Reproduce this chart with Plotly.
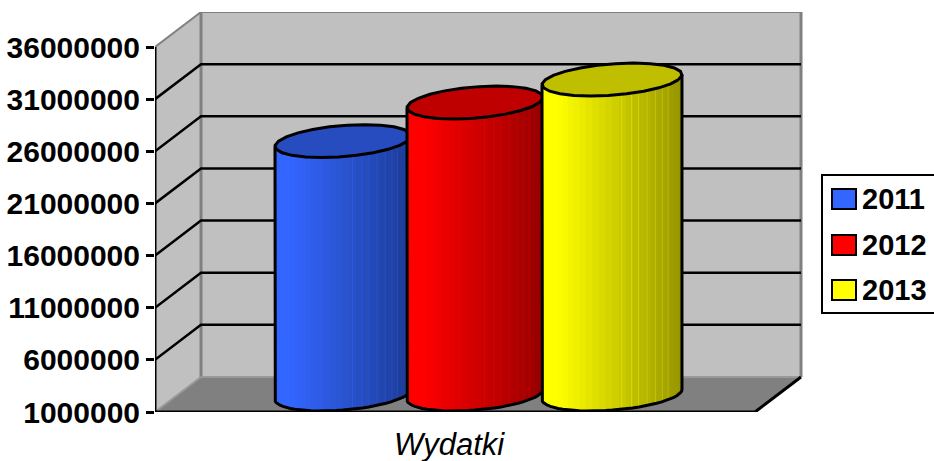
import numpy as np
import plotly.graph_objects as go

years = ["2011", "2012", "2013"]
wydatki = [25300000, 29000000, 31200000]
colors = [(51, 102, 255), (255, 0, 0), (255, 255, 0)]
tick_values = [1000000, 6000000, 11000000, 16000000, 21000000, 26000000, 31000000, 36000000]
tick_labels = ["1000000", "6000000", "11000000", "16000000", "21000000", "26000000", "31000000", "36000000"]
category = "Wydatki"

FONT = "Liberation Sans"
W, H = 934, 461
# plot area in pixels, the x axis runs on to the window edge to leave room for the legend
LEFT, TOP, BOTTOM = 155, 12, 412
PX_PER_X = 600
PX_PER_VALUE = 52.14 / 5000000
Y_MIN = tick_values[0]
Y_MAX = Y_MIN + (BOTTOM - TOP) / PX_PER_VALUE
X_MAX = (W - LEFT) / PX_PER_X
# depth of the box: x axis 0..1 is the front edge of the floor
DX = 46 / PX_PER_X
DY = 35 / PX_PER_VALUE
TICK_DROP = 8 / PX_PER_VALUE

# where the cylinders sit along the front edge, and how wide they are
bar_lefts = [0.2, 0.42, 0.645]
bar_widths = [0.2267, 0.2267, 0.2333]
# light seams between the facets on the shaded side
facet_fracs = [0.57, 0.64, 0.69, 0.75, 0.81, 0.86, 0.9]


def rgb(c, k=1.0):
    return "rgb(%d,%d,%d)" % (c[0] * k, c[1] * k, c[2] * k)


def ring(cx, value, half, t):
    # oblique projection of a circle lying at height value
    shear = DX * 0.47
    r = np.sqrt(max(half**2 - shear**2, 0))
    x = cx + r * np.cos(t) + shear * np.sin(t)
    y = value + DY * (0.5 + 0.47 * np.sin(t))
    return x, y


def shade(frac):
    if frac < 0.1:
        return 1.0
    return 1.0 - 0.42 * (frac - 0.1) / 0.9


fig = go.Figure()


def add_poly(x, y, color, name=None):
    fig.add_trace(go.Scatter(x=x, y=y, mode="lines", fill="toself", fillcolor=color,
                             line=dict(width=0, color=color), hoverinfo="skip",
                             name=name, showlegend=False, cliponaxis=False))


def add_line(x, y, color, width, name=None):
    fig.add_trace(go.Scatter(x=x, y=y, mode="lines", line=dict(color=color, width=width),
                             hoverinfo="skip", name=name, showlegend=False, cliponaxis=False))


# walls and floor
add_poly([0, DX, DX, 0], [Y_MIN, Y_MIN + DY, tick_values[-1] + DY, tick_values[-1]], "#c0c0c0")
add_poly([DX, 1 + DX, 1 + DX, DX], [Y_MIN + DY, Y_MIN + DY, tick_values[-1] + DY, tick_values[-1] + DY], "#c0c0c0")
add_poly([0, 1, 1 + DX, DX], [Y_MIN, Y_MIN, Y_MIN + DY, Y_MIN + DY], "#808080")

add_line([0, DX], [tick_values[-1], tick_values[-1] + DY], "#808080", 2)
add_line([DX, 1 + DX], [tick_values[-1] + DY] * 2, "#808080", 2)
add_line([DX, DX], [Y_MIN + DY, tick_values[-1] + DY], "#808080", 3)
add_line([1 + DX, 1 + DX], [Y_MIN + DY, tick_values[-1] + DY], "#808080", 3)
add_line([0, DX], [Y_MIN, Y_MIN + DY], "#999999", 2)
add_line([DX, 1 + DX], [Y_MIN + DY] * 2, "#999999", 2)

# gridlines
for v in tick_values[1:-1]:
    add_line([0, DX, 1 + DX], [v, v + DY, v + DY], "black", 2.5)

# floor edges, end ticks and value axis
add_line([0, 1, 1 + DX], [Y_MIN, Y_MIN, Y_MIN + DY], "black", 3)
add_line([0, 0], [Y_MIN - TICK_DROP, tick_values[-1]], "black", 3)
add_line([1, 1], [Y_MIN - TICK_DROP, Y_MIN], "black", 3)

# cylinders
for year, value, c, left, width in zip(years, wydatki, colors, bar_lefts, bar_widths):
    half = width / 2
    cx = left + half
    # front half of the ring, left to right
    t = np.linspace(np.pi + 0.32, 2 * np.pi + 0.32, 33)
    bx, by = ring(cx, Y_MIN, half, t)
    tx, ty = ring(cx, value, half, t)
    for i in range(len(t) - 1):
        j = min(i + 2, len(t) - 1)
        frac = (bx[i] - left) / width
        add_poly([bx[i], bx[j], tx[j], tx[i]], [by[i], by[j], ty[j], ty[i]], rgb(c, shade(frac)), year)
    for frac in facet_fracs:
        x = left + frac * width
        add_line([x, x], [np.interp(x, bx, by), np.interp(x, tx, ty)], rgb(c, min(shade(frac) + 0.1, 1)), 1, year)
    # top face
    tt = np.linspace(0, 2 * np.pi, 25)
    ex, ey = ring(cx, value, half, tt)
    add_poly(ex, ey, rgb(c, 0.75), year)
    add_line(ex, ey, "black", 3, year)
    # outline of the body
    ox = [tx[0]] + list(bx) + [tx[-1]]
    oy = [ty[0]] + list(by) + [ty[-1]]
    add_line(ox, oy, "black", 3, year)


def axis_x(px):
    return (px - LEFT) / PX_PER_X


def paper_y(py):
    return (BOTTOM - py) / (BOTTOM - TOP)


# legend box
shapes = [dict(type="rect", xref="x", yref="paper", x0=axis_x(822), x1=axis_x(940),
               y0=paper_y(313), y1=paper_y(175), line=dict(color="black", width=2), fillcolor="white")]
annotations = []
legend_rows = [199, 245, 290]
for year, c, py in zip(years, colors, legend_rows):
    shapes.append(dict(type="rect", xref="x", yref="paper", x0=axis_x(832), x1=axis_x(856),
                       y0=paper_y(py + 10), y1=paper_y(py - 10), line=dict(color="black", width=2),
                       fillcolor=rgb(c)))
    annotations.append(dict(text="<b>%s</b>" % year, xref="x", yref="paper", x=axis_x(860), y=paper_y(py),
                            xanchor="left", yanchor="middle", showarrow=False,
                            font=dict(family=FONT, size=29, color="black")))

# category label drawn in the page, it must not reserve any room under the axis
annotations.append(dict(text="<i>%s</i>" % category, xref="x", yref="y", x=0.49, y=Y_MIN,
                        xanchor="center", yanchor="top", yshift=-13, showarrow=False,
                        font=dict(family=FONT, size=31, color="black")))

fig.update_layout(
    width=W,
    height=H,
    autosize=False,
    paper_bgcolor="white",
    plot_bgcolor="white",
    margin=dict(l=LEFT, r=0, t=TOP, b=H - BOTTOM, autoexpand=False),
    showlegend=False,
    shapes=shapes,
    annotations=annotations,
    xaxis=dict(range=[0, X_MAX], showgrid=False, zeroline=False, showline=False,
               automargin=False, showticklabels=False, ticks=""),
    yaxis=dict(range=[Y_MIN, Y_MAX], showgrid=False, zeroline=False, showline=False,
               automargin=False, tickmode="array", tickvals=tick_values,
               ticktext=["<b>%s</b>" % s for s in tick_labels],
               ticks="outside", ticklen=8, tickwidth=3, tickcolor="black",
               tickfont=dict(family=FONT, size=30, color="black")),
)

# the page's default body margin would push the chart off the window
fig.write_html("out.html", config=dict(displayModeBar=False),
               post_script="document.body.style.margin='0';document.body.style.overflow='hidden';")
